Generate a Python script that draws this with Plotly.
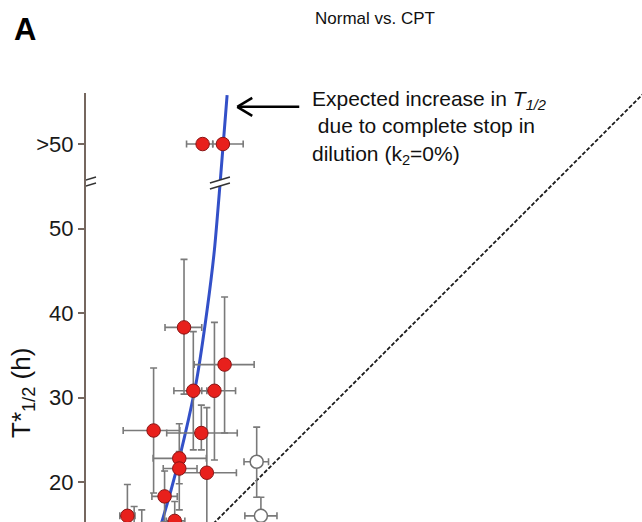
import plotly.graph_objects as go

# ---- data ----
red_x  = [11.6, 16.4, 12.7, 15.2, 8.0, 13.65, 11.04, 11.04, 14.3, 9.3, 4.9, 10.5, 5.7, 6.6, 13.8, 16.2]
red_y  = [38.3, 33.9, 30.8, 30.8, 26.1, 25.8, 22.8, 21.6, 21.1, 18.3, 16.0, 15.4, 12.5, 13.0, 60.0, 60.0]
red_xm = [2.25, 3.6, 2.3, 1.5, 3.6, 4.1, 3.1, 1.9, 3.2, 1.5, 0.9, 1.0, 0.8, 0.8, 1.9, 1.2]
red_xp = [2.1, 3.5, 1.6, 2.5, 3.1, 4.25, 3.2, 2.1, 3.5, 1.5, 0.9, 1.2, 0.8, 0.8, 1.2, 2.4]
red_ym = [7.9, 8.1, 7.0, 8.2, 7.4, 2.0, 3.0, 4.9, 7.0, 3.0, 3.5, 3.0, 1.0, 1.0, 0.0, 0.0]
red_yp = [8.05, 8.0, 7.0, 8.1, 7.4, 3.3, 4.1, 2.0, 7.7, 3.0, 3.7, 2.3, 4.6, 3.7, 0.0, 0.0]

open_x  = [20.2, 20.7]
open_y  = [22.4, 16.0]
open_xm = [1.5, 1.9]
open_xp = [1.4, 1.9]
open_ym = [4.2, 3.0]
open_yp = [4.1, 2.2]

curve_x = [8.9, 10.05, 11.1, 12.15, 13.1, 14.35, 15.2, 15.85, 16.7]
curve_y = [15.0, 19.0, 23.0, 27.5, 32.1, 40.5, 47.5, 55.1, 65.8]

ident_x = [0, 70]
ident_y = [0, 70]

tick_vals = [20, 30, 40, 50, 60]
tick_text = ["20", "30", "40", "50", ">50"]
break_y = 55.4
break_curve_x = 15.85
arrow_tip = (17.9, 64.4)

FONT = "Liberation Sans, Arial, sans-serif"

fig = go.Figure()

fig.add_trace(go.Scatter(x=ident_x, y=ident_y, mode="lines",
                         line=dict(color="#1a1a1a", width=1.8, dash="4px,2px"),
                         hoverinfo="skip", showlegend=False))

fig.add_trace(go.Scatter(x=curve_x, y=curve_y, mode="lines",
                         line=dict(color="#3350c8", width=3, shape="spline", smoothing=0.6),
                         showlegend=False))

fig.add_trace(go.Scatter(
    x=open_x, y=open_y, mode="markers",
    marker=dict(size=13, color="white", line=dict(color="#707070", width=1.5)),
    error_x=dict(type="data", array=open_xp, arrayminus=open_xm, color="#7a7a7a", thickness=1.6, width=3.5),
    error_y=dict(type="data", array=open_yp, arrayminus=open_ym, color="#7a7a7a", thickness=1.6, width=3.5),
    showlegend=False))

fig.add_trace(go.Scatter(
    x=red_x, y=red_y, mode="markers",
    marker=dict(size=13.5, color="#e8201c", line=dict(color="#8a1414", width=1)),
    error_x=dict(type="data", array=red_xp, arrayminus=red_xm, color="#7a7a7a", thickness=1.6, width=3.5),
    error_y=dict(type="data", array=red_yp, arrayminus=red_ym, color="#7a7a7a", thickness=1.6, width=3.5),
    showlegend=False))

# axis-break marks (pixel-sized, anchored at data positions)
for xa in [0, break_curve_x]:
    fig.add_shape(type="path", xref="x", yref="y", xsizemode="pixel", ysizemode="pixel",
                  xanchor=xa, yanchor=break_y,
                  path="M -10,-6 L 10,0 L 10,6 L -10,0 Z",
                  fillcolor="white", line=dict(width=0), layer="above")
    for dy in (-6, 0):
        fig.add_shape(type="line", xref="x", yref="y", xsizemode="pixel", ysizemode="pixel",
                      xanchor=xa, yanchor=break_y,
                      x0=-10, y0=dy, x1=10, y1=dy + 6,
                      line=dict(color="#333333", width=1.5), layer="above")

# arrow pointing at the curve (open chevron head)
fig.add_shape(type="line", xref="x", yref="y", xsizemode="pixel", ysizemode="pixel",
              xanchor=arrow_tip[0], yanchor=arrow_tip[1], x0=1, y0=0, x1=62, y1=0,
              line=dict(color="black", width=2.5))
for dy in (-9, 9):
    fig.add_shape(type="line", xref="x", yref="y", xsizemode="pixel", ysizemode="pixel",
                  xanchor=arrow_tip[0], yanchor=arrow_tip[1], x0=0, y0=0, x1=15, y1=dy,
                  line=dict(color="black", width=2.5))

fig.add_annotation(xref="paper", yref="paper", x=0.403, y=1.018, xanchor="left", yanchor="top",
                   align="left", showarrow=False,
                   text="Expected increase in <i>T<sub>1/2</sub></i><br> due to complete stop in<br>dilution (k<sub>2</sub>=0%)",
                   font=dict(family=FONT, size=21, color="#111111"))

fig.add_annotation(xref="paper", yref="paper", x=(375 - 86) / 556, y=(522 - 18) / 429,
                   xanchor="center", yanchor="middle", showarrow=False,
                   text="Normal vs. CPT", font=dict(family=FONT, size=17, color="#111111"))

fig.add_annotation(xref="paper", yref="paper", x=(25 - 86) / 556, y=(522 - 30) / 429,
                   xanchor="center", yanchor="middle", showarrow=False,
                   text="<b>A</b>", font=dict(family=FONT, size=31, color="black"))

# y-axis title
fig.add_annotation(xref="paper", yref="paper", x=(22 - 86) / 556, y=(522 - 393) / 429,
                   xanchor="center", yanchor="middle", showarrow=False, textangle=-90,
                   text="T*<sub>1/2</sub> (h)", font=dict(family=FONT, size=26, color="#111111"))

fig.update_layout(
    width=642, height=522, autosize=False,
    margin=dict(l=86, r=0, t=93, b=0, pad=0),
    paper_bgcolor="white", plot_bgcolor="white",
    font=dict(family=FONT, color="#111111"),
    xaxis=dict(range=[0, 65.8], visible=False),
    yaxis=dict(range=[15.27, 66.04], showline=True, linecolor="#75675f", linewidth=2,
               ticks="outside", ticklen=6, tickwidth=1.5, tickcolor="#75675f",
               tickvals=tick_vals, ticktext=tick_text, showgrid=False, zeroline=False,
               tickfont=dict(family=FONT, size=22, color="#1a1a1a")),
)

fig.write_html("out.html")
